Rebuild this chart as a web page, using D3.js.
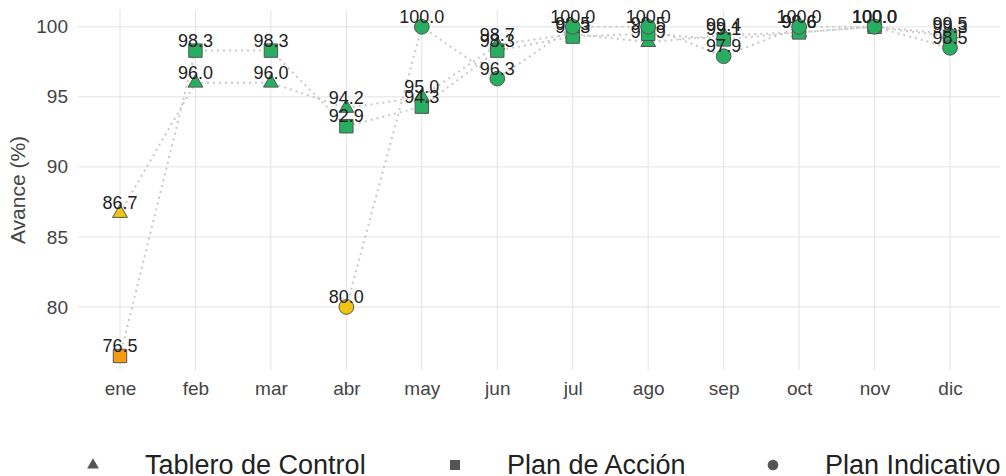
<!DOCTYPE html>
<html>
<head>
<meta charset="utf-8">
<script src="https://cdn.jsdelivr.net/npm/d3@7"></script>
<style>
  body { margin: 0; background: #fff; }
  svg text { font-family: "Liberation Sans", Arial, sans-serif; }
</style>
</head>
<body>
<div id="chart"></div>
<script>
var months = ["ene", "feb", "mar", "abr", "may", "jun", "jul", "ago", "sep", "oct", "nov", "dic"];
var yTicks = [80, 85, 90, 95, 100];

var tablero = [86.7, 96.0, 96.0, 94.2, 95.0, 98.7, 99.5, 98.9, 99.4, 99.6, 100.0, 99.5];
var planAccion = [76.5, 98.3, 98.3, 92.9, 94.3, 98.3, 99.3, 99.5, 99.1, 99.6, 100.0, 99.3];
var planIndicativo = [null, null, null, 80.0, 100.0, 96.3, 100.0, 100.0, 97.9, 100.0, 100.0, 98.5];

var seriesNames = ["Tablero de Control", "Plan de Acción", "Plan Indicativo"];
var seriesShapes = [d3.symbolTriangle, d3.symbolSquare, d3.symbolCircle];
var seriesValues = [tablero, planAccion, planIndicativo];

var width = 1006,
    height = 476;

var x = d3.scalePoint()
    .domain(months)
    .range([120, 950]);

var y = d3.scaleLinear()
    .domain([75.5, 101.2])
    .range([370, 10]);

// colour by level
function colorFor(v) {
    if (v >= 90) return "#27ae60";
    if (v >= 80) return "#f1c40f";
    return "#f39c12";
}

var svg = d3.select("#chart").append("svg")
    .attr("width", width)
    .attr("height", height);

// grid
svg.append("g").selectAll("line")
    .data(yTicks).enter()
    .append("line")
    .attr("x1", 78).attr("x2", 1000)
    .attr("y1", function(d) { return y(d); })
    .attr("y2", function(d) { return y(d); })
    .attr("stroke", "#e3e3e3");

svg.append("g").selectAll("line")
    .data(months).enter()
    .append("line")
    .attr("x1", function(d) { return x(d); })
    .attr("x2", function(d) { return x(d); })
    .attr("y1", 10).attr("y2", 370)
    .attr("stroke", "#e3e3e3");

// axes
var yAxis = svg.append("g")
    .attr("transform", "translate(78,0)")
    .call(d3.axisLeft(y).tickValues(yTicks).tickSize(0).tickPadding(10));
var xAxis = svg.append("g")
    .attr("transform", "translate(0,376)")
    .call(d3.axisBottom(x).tickSize(0).tickPadding(6));
[yAxis, xAxis].forEach(function(a) {
    a.select(".domain").remove();
    a.selectAll("text").attr("font-size", 19).attr("fill", "#444");
});

svg.append("text")
    .attr("transform", "translate(25,190) rotate(-90)")
    .attr("text-anchor", "middle")
    .attr("font-size", 21)
    .attr("fill", "#444")
    .text("Avance (%)");

var line = d3.line()
    .defined(function(d) { return d.v != null; })
    .x(function(d) { return x(d.m); })
    .y(function(d) { return y(d.v); });

var data = seriesValues.map(function(vals, i) {
    return months.map(function(m, j) { return { m: m, v: vals[j], s: i }; });
});

// dotted lines
data.forEach(function(pts) {
    svg.append("path")
        .datum(pts.filter(function(d) { return d.v != null; }))
        .attr("d", line)
        .attr("fill", "none")
        .attr("stroke", "#c8c8c8")
        .attr("stroke-width", 2)
        .attr("stroke-dasharray", "2,4");
});

// markers + labels
data.forEach(function(pts, i) {
    var valid = pts.filter(function(d) { return d.v != null; });
    var sizes = [95, 180, 170];
    svg.append("g").selectAll("path")
        .data(valid).enter()
        .append("path")
        .attr("transform", function(d) { return "translate(" + x(d.m) + "," + y(d.v) + ")"; })
        .attr("d", d3.symbol().type(seriesShapes[i]).size(sizes[i]))
        .attr("fill", function(d) { return colorFor(d.v); })
        .attr("stroke", "#555")
        .attr("stroke-width", 1);
    svg.append("g").selectAll("text")
        .data(valid).enter()
        .append("text")
        .attr("x", function(d) { return x(d.m); })
        .attr("y", function(d) { return y(d.v) - 4; })
        .attr("text-anchor", "middle")
        .attr("font-size", 18)
        .attr("fill", "#222")
        .text(function(d) { return d.v.toFixed(1); });
});

// legend
var legendX = [93, 455, 773];
var legend = svg.append("g").selectAll("g")
    .data(seriesNames).enter()
    .append("g")
    .attr("transform", function(d, i) { return "translate(" + legendX[i] + ",465)"; });
legend.append("path")
    .attr("d", function(d, i) { return d3.symbol().type(seriesShapes[i]).size([60, 100, 90][i])(); })
    .attr("fill", "#555");
legend.append("text")
    .attr("x", 52)
    .attr("y", 9)
    .attr("font-size", 27)
    .attr("fill", "#222")
    .text(function(d) { return d; });
</script>
</body>
</html>
